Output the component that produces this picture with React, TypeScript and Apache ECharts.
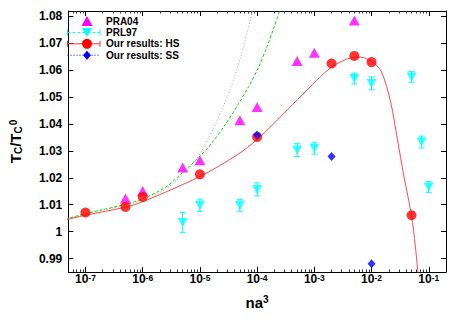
import React, { useEffect, useRef } from 'react';
import * as echarts from 'echarts';

// ---- data (x values are na^3, y values are Tc/Tc0) ----
const pra04X = [5e-7, 1e-6, 5e-6, 1e-5, 5e-5, 1e-4, 5e-4, 1e-3, 5e-3];
const pra04Y = [1.0123, 1.0151, 1.0238, 1.0265, 1.0414, 1.0463, 1.0634, 1.0665, 1.0785];

const prl97X = [5e-6, 1e-5, 5e-5, 1e-4, 5e-4, 1e-3, 5e-3, 1e-2, 5e-2, 7.5e-2, 1e-1];
const prl97Y = [1.0034, 1.0098, 1.0098, 1.0157, 1.0303, 1.031, 1.0569, 1.0551, 1.0575, 1.0333, 1.0166];
const prl97Err = [0.0038, 0.0023, 0.0022, 0.0024, 0.0024, 0.0022, 0.002, 0.0024, 0.002, 0.0022, 0.002];

const hsX = [1e-7, 5e-7, 1e-6, 1e-5, 1e-4, 2e-3, 5e-3, 1e-2, 5e-2];
const hsY = [1.0071, 1.0092, 1.0129, 1.0213, 1.0352, 1.0625, 1.0653, 1.063, 1.0061];

const ssX = [1e-4, 2e-3, 1e-2];
const ssY = [1.0359, 1.0279, 0.9881];

// fitted HS curve (red, solid)
const fitX = [4.5e-8, 1e-7, 5e-7, 1e-6, 1e-5, 4.45e-5, 1e-4, 1.92e-4, 4.2e-4, 9.3e-4, 1.8e-3, 3e-3, 4.45e-3, 6.5e-3, 9.9e-3, 1.47e-2, 2.17e-2, 2.83e-2, 3.67e-2, 4.98e-2, 5.82e-2, 6.38e-2, 6.6e-2];
const fitY = [1.0044, 1.0061, 1.0091, 1.0111, 1.0205, 1.0285, 1.0342, 1.04, 1.0473, 1.0547, 1.0604, 1.0633, 1.0646, 1.0648, 1.0633, 1.0597, 1.0479, 1.0343, 1.0207, 1.0061, 0.9947, 0.986, 0.983];

// theory curve (green, dashed)
const greenX = [4.5e-8, 1e-7, 5.2e-7, 1.01e-6, 2.5e-6, 5.1e-6, 1e-5, 1.6e-5, 2.67e-5, 4.46e-5, 7.15e-5, 1.06e-4, 1.46e-4, 1.92e-4, 2.56e-4, 2.84e-4];
const greenY = [1.0046, 1.0067, 1.0102, 1.0122, 1.0165, 1.0222, 1.028, 1.0328, 1.0393, 1.0466, 1.054, 1.0611, 1.0683, 1.0752, 1.083, 1.086];

// theory curve (grey, dotted)
const greyX = [4.5e-8, 1e-7, 5.2e-7, 1.01e-6, 2.5e-6, 5.1e-6, 8.2e-6, 1.22e-5, 1.8e-5, 2.37e-5, 3.13e-5, 4.12e-5, 5.43e-5, 7.15e-5, 8.05e-5, 8.55e-5, 8.9e-5];
const greyY = [1.0046, 1.0066, 1.0099, 1.0117, 1.0157, 1.0215, 1.0262, 1.0322, 1.0392, 1.045, 1.051, 1.0581, 1.0667, 1.0764, 1.0812, 1.0838, 1.0858];

// axes
const xMin = 5e-8;
const xMax = 0.2;
const xMajorExp = [-7, -6, -5, -4, -3, -2, -1];
const yMin = 0.985;
const yMax = 1.082;
const yTicks = [0.99, 1, 1.01, 1.02, 1.03, 1.04, 1.05, 1.06, 1.07, 1.08];

const legendLabels = ['PRA04', 'PRL97', 'Our results: HS', 'Our results: SS'];

const FONT = "'Liberation Sans', Arial, Helvetica, sans-serif";

const lg = (v: number) => Math.log10(v);
const minorLogs: number[] = [];
for (let e = -8; e <= -1; e++) {
  for (let k = 2; k <= 9; k++) {
    const v = lg(k) + e;
    if (v > lg(xMin) && v < lg(xMax)) minorLogs.push(v);
  }
}

function pts(xs: number[], ys: number[]) {
  return xs.map((x, i) => [lg(x), ys[i]]);
}

export default function App() {
  const ref = useRef<HTMLDivElement>(null);
  useEffect(() => {
    if (!ref.current) return;
    const chart = echarts.init(ref.current, undefined, { renderer: 'svg' });

    const xBase = {
      type: 'value',
      min: lg(xMin),
      max: lg(xMax),
      splitLine: { show: false },
    };
    const majorX = (pos: string, labels: boolean) => ({
      ...xBase,
      position: pos,
      axisLine: { show: true, lineStyle: { color: '#000', width: 1 } },
      axisTick: { show: true, inside: true, length: 5, customValues: xMajorExp, lineStyle: { color: '#000' } },
      axisLabel: labels
        ? {
            show: true,
            customValues: xMajorExp,
            margin: 1,
            fontFamily: FONT,
            formatter: (v: number) => `{b|10}{s|${Math.round(v)}}`,
            rich: {
              b: { fontSize: 12, fontWeight: 'bold', color: '#000', fontFamily: FONT, lineHeight: 12, padding: [6, 0, 0, 0], verticalAlign: 'bottom' },
              s: { fontSize: 8.5, fontWeight: 'bold', color: '#000', fontFamily: FONT, lineHeight: 9, verticalAlign: 'top' },
            },
          }
        : { show: false },
      ...(labels
        ? {
            name: '{a|na}{s|3}',
            nameLocation: 'middle',
            nameGap: 8,
            nameTextStyle: {
              rich: {
                a: { fontSize: 15, fontWeight: 'bold', color: '#000', fontFamily: FONT, lineHeight: 15, padding: [5, 0, 0, 0], verticalAlign: 'bottom' },
                s: { fontSize: 10, fontWeight: 'bold', color: '#000', fontFamily: FONT, lineHeight: 10, verticalAlign: 'top' },
              },
            },
          }
        : {}),
    });
    const minorX = (pos: string) => ({
      ...xBase,
      position: pos,
      axisLine: { show: false },
      axisTick: { show: true, inside: true, length: 2.5, customValues: minorLogs, lineStyle: { color: '#333' } },
      axisLabel: { show: false },
    });

    const yAxisDef = (pos: string, labels: boolean) => ({
      type: 'value',
      position: pos,
      min: yMin,
      max: yMax,
      splitLine: { show: false },
      axisLine: { show: true, lineStyle: { color: '#000', width: 1 } },
      axisTick: { show: true, inside: true, length: 5, customValues: yTicks, lineStyle: { color: '#000' } },
      axisLabel: labels
        ? {
            show: true,
            customValues: yTicks,
            margin: 6,
            fontSize: 12,
            fontWeight: 'bold',
            color: '#000',
            fontFamily: FONT,
            formatter: (v: number) => String(+v.toFixed(2)),
          }
        : { show: false },
      ...(labels
        ? {
            name: '{t|T}{c|C}{t|/T}{c|C}{z|0}',
            nameLocation: 'middle',
            nameRotate: 90,
            nameGap: 36,
            nameTextStyle: {
              rich: {
                t: { fontSize: 15, fontWeight: 'bold', color: '#000', fontFamily: FONT, lineHeight: 15, padding: [0, 0, 5, 0], verticalAlign: 'top' },
                c: { fontSize: 10, fontWeight: 'bold', color: '#000', fontFamily: FONT, lineHeight: 10, verticalAlign: 'bottom' },
                z: { fontSize: 10, fontWeight: 'bold', color: '#000', fontFamily: FONT, lineHeight: 10, verticalAlign: 'top', padding: [0, 0, 0, 1] },
              },
            },
          }
        : {}),
    });

    // legend drawn as graphics
    const lx0 = 67.5, lx1 = 100, sx = 87, tx = 106;
    const rows = [21, 32.5, 43.8, 55.2];
    const legendG: any[] = [];
    const tri = (cx: number, cy: number, w: number, h: number, down: boolean, color: string) => ({
      type: 'polygon',
      shape: {
        points: down
          ? [[cx - w / 2, cy - h / 2], [cx + w / 2, cy - h / 2], [cx, cy + h / 2]]
          : [[cx - w / 2, cy + h / 2], [cx + w / 2, cy + h / 2], [cx, cy - h / 2]],
      },
      style: { fill: color },
      z: 100,
    });
    const seg = (x1: number, y1: number, x2: number, y2: number, color: string, dash?: number[]) => ({
      type: 'line',
      shape: { x1, y1, x2, y2 },
      style: { stroke: color, lineWidth: 1, lineDash: dash },
      z: 99,
    });
    legendG.push(tri(sx, rows[0], 11, 10, false, '#ff00ff'));
    legendG.push(seg(lx0, rows[1], lx1, rows[1], '#00ffff', [3, 2]));
    legendG.push(seg(lx0, rows[1] - 3, lx0, rows[1] + 3, '#00ffff'));
    legendG.push(seg(lx1, rows[1] - 3, lx1, rows[1] + 3, '#00ffff'));
    legendG.push(tri(sx, rows[1], 10, 9, true, '#00ffff'));
    legendG.push(seg(lx0, rows[2], lx1, rows[2], '#ff3030'));
    legendG.push(seg(lx0, rows[2] - 3, lx0, rows[2] + 3, '#ff3030'));
    legendG.push(seg(lx1, rows[2] - 3, lx1, rows[2] + 3, '#ff3030'));
    legendG.push({ type: 'circle', shape: { cx: sx, cy: rows[2], r: 5 }, style: { fill: '#ff0000' }, z: 100 });
    legendG.push(seg(lx0, rows[3], lx1, rows[3], '#0000ff', [1, 2]));
    legendG.push({
      type: 'polygon',
      shape: { points: [[sx, rows[3] - 4.5], [sx + 4, rows[3]], [sx, rows[3] + 4.5], [sx - 4, rows[3]]] },
      style: { fill: '#0000ff' },
      z: 100,
    });
    legendLabels.forEach((t, i) => {
      legendG.push({
        type: 'text',
        x: tx,
        y: rows[i],
        style: { text: t, fill: '#000', font: `bold 10px ${FONT}`, verticalAlign: 'middle', align: 'left' },
        z: 100,
      });
    });

    const lineSeries = (xs: number[], ys: number[], color: string, type: any) => ({
      type: 'line',
      data: pts(xs, ys),
      showSymbol: false,
      smooth: 0.3,
      lineStyle: { color, width: 1, type },
      z: 1,
      silent: true,
    });

    const option: any = {
      animation: false,
      backgroundColor: '#fff',
      grid: { left: 60, right: 17, top: 11, bottom: 52, containLabel: false },
      xAxis: [majorX('bottom', true), minorX('bottom'), majorX('top', false), minorX('top')],
      yAxis: [yAxisDef('left', true), yAxisDef('right', false)],
      graphic: legendG,
      series: [
        lineSeries(greyX, greyY, '#a8a8a8', [1, 2]),
        lineSeries(greenX, greenY, '#00dd00', [3, 2]),
        lineSeries(fitX, fitY, '#ff4848', 'solid'),
        {
          type: 'custom',
          data: prl97X.map((x, i) => [lg(x), prl97Y[i], prl97Err[i]]),
          encode: { x: 0, y: 1 },
          z: 2,
          renderItem: (_p: any, api: any) => {
            const x = api.value(0), y = api.value(1), e = api.value(2);
            const t = api.coord([x, y + e]);
            const b = api.coord([x, y - e]);
            const w = 3;
            const st = { stroke: '#00ffff', lineWidth: 1 };
            return {
              type: 'group',
              children: [
                { type: 'line', shape: { x1: t[0], y1: t[1], x2: b[0], y2: b[1] }, style: st },
                { type: 'line', shape: { x1: t[0] - w, y1: t[1], x2: t[0] + w, y2: t[1] }, style: st },
                { type: 'line', shape: { x1: b[0] - w, y1: b[1], x2: b[0] + w, y2: b[1] }, style: st },
              ],
            };
          },
        },
        {
          name: 'PRA04',
          type: 'scatter',
          data: pts(pra04X, pra04Y),
          symbol: 'triangle',
          symbolSize: [11, 10],
          itemStyle: { color: '#ff00ff' },
          z: 3,
        },
        {
          name: 'PRL97',
          type: 'scatter',
          data: pts(prl97X, prl97Y),
          symbol: 'triangle',
          symbolRotate: 180,
          symbolSize: [10, 9],
          itemStyle: { color: '#00ffff' },
          z: 3,
        },
        {
          name: 'Our results: HS',
          type: 'scatter',
          data: pts(hsX, hsY),
          symbol: 'circle',
          symbolSize: 10,
          itemStyle: { color: '#ff0000' },
          z: 4,
        },
        {
          name: 'Our results: SS',
          type: 'scatter',
          data: pts(ssX, ssY),
          symbol: 'diamond',
          symbolSize: [8, 9],
          itemStyle: { color: '#0000ff' },
          z: 5,
        },
      ],
    };
    chart.setOption(option);
    return () => chart.dispose();
  }, []);
  return <div ref={ref} style={{ position: 'fixed', left: 0, top: 0, width: 463, height: 324, background: '#fff' }} />;
}
